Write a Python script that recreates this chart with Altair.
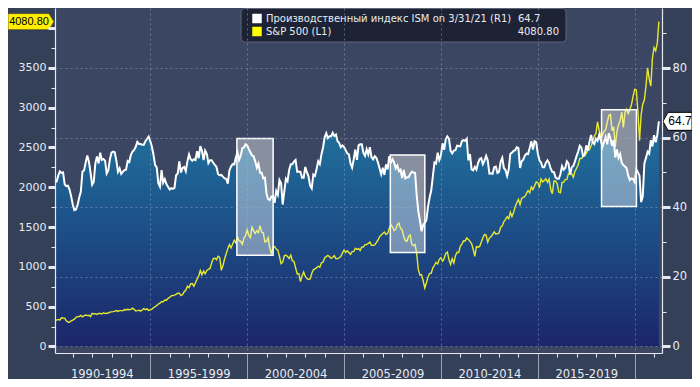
import altair as alt
import pandas as pd

# ---------------- data (monthly, month-end, Jan 1990 .. Mar 2021) ----------------
ISM_NAME = "Производственный индекс ISM on 3/31/21 (R1)"
SP_NAME = "S&P 500 (L1)"
START_YEAR = 1990

ISM_VALUES = [
    47.2, 47.4, 49.1, 50.3, 49.9, 50.0, 46.6, 46.1, 46.2, 45.1, 43.2, 40.8,  # 1990
    39.2, 39.4, 40.7, 42.8, 44.5, 50.3, 50.6, 52.9, 54.9, 53.1, 50.0, 46.5,  # 1991
    47.3, 52.7, 54.6, 52.6, 55.7, 53.6, 53.9, 53.4, 49.7, 50.6, 53.8, 55.7,  # 1992
    56.0, 55.8, 53.4, 50.2, 51.2, 49.6, 50.2, 50.7, 50.8, 53.3, 53.0, 55.1,  # 1993
    56.0, 56.5, 57.4, 58.8, 58.2, 58.2, 58.0, 58.0, 59.0, 59.7, 60.3, 59.0,  # 1994
    57.4, 55.1, 52.1, 51.5, 46.9, 45.9, 50.7, 47.1, 48.1, 46.7, 45.9, 45.1,  # 1995
    45.5, 45.3, 45.6, 49.2, 49.7, 53.2, 50.0, 51.3, 51.6, 50.4, 53.2, 55.2,  # 1996
    53.8, 53.4, 53.8, 53.6, 56.1, 54.1, 57.6, 56.3, 53.6, 56.3, 55.4, 52.7,  # 1997
    53.5, 53.5, 52.8, 52.2, 51.6, 49.5, 49.2, 49.3, 48.8, 48.3, 48.2, 46.8,  # 1998
    50.6, 51.7, 52.4, 52.3, 54.3, 55.8, 53.6, 54.8, 57.0, 57.2, 58.1, 57.8,  # 1999
    56.7, 55.8, 54.9, 54.7, 53.2, 51.4, 52.5, 49.9, 49.9, 48.3, 48.5, 43.9,  # 2000
    42.3, 42.1, 43.1, 43.2, 41.3, 44.7, 43.6, 47.9, 47.0, 40.8, 44.5, 48.2,  # 2001
    47.5, 50.7, 52.4, 52.4, 53.1, 53.6, 50.2, 50.3, 50.2, 48.5, 48.5, 51.6,  # 2002
    50.0, 48.9, 46.2, 45.4, 49.4, 49.0, 51.0, 53.2, 52.4, 55.2, 57.2, 60.1,  # 2003
    61.3, 59.9, 60.4, 60.4, 61.4, 60.5, 60.9, 59.0, 58.5, 57.3, 57.8, 57.3,  # 2004
    56.4, 55.5, 55.2, 52.6, 51.4, 53.8, 56.6, 53.6, 57.8, 58.1, 58.1, 55.6,  # 2005
    54.8, 56.7, 55.2, 57.3, 54.4, 53.8, 54.7, 54.2, 52.9, 51.2, 49.5, 51.4,  # 2006
    49.3, 52.3, 50.9, 54.7, 52.9, 53.8, 52.9, 51.2, 52.0, 50.4, 50.8, 48.4,  # 2007
    50.7, 48.3, 48.6, 48.6, 49.6, 50.2, 50.0, 49.9, 43.5, 38.9, 36.2, 33.1,  # 2008
    34.9, 35.5, 36.3, 40.1, 42.8, 44.8, 48.9, 52.9, 52.6, 55.7, 53.6, 54.9,  # 2009
    58.4, 56.5, 59.6, 60.4, 59.7, 56.2, 55.5, 56.3, 56.4, 57.7, 57.6, 57.5,  # 2010
    59.0, 59.3, 59.1, 59.7, 53.5, 55.3, 50.9, 50.6, 51.6, 50.8, 52.7, 53.9,  # 2011
    54.1, 52.4, 53.4, 54.8, 53.5, 49.7, 49.8, 49.6, 51.5, 51.7, 49.9, 50.2,  # 2012
    53.1, 54.2, 51.3, 50.7, 49.0, 50.9, 55.4, 55.7, 56.2, 56.4, 57.3, 57.0,  # 2013
    51.3, 53.2, 53.7, 54.9, 55.4, 55.3, 57.1, 59.0, 56.6, 59.0, 58.7, 55.5,  # 2014
    53.5, 52.9, 51.5, 51.5, 52.8, 53.5, 52.7, 51.1, 50.2, 50.1, 48.6, 48.2,  # 2015
    48.2, 49.5, 51.8, 50.8, 51.3, 53.2, 52.6, 49.4, 51.5, 51.9, 53.2, 54.7,  # 2016
    56.0, 57.7, 57.2, 54.8, 54.9, 57.8, 56.3, 58.8, 60.8, 58.7, 58.2, 59.7,  # 2017
    59.1, 60.8, 59.3, 57.3, 58.7, 60.2, 58.1, 61.3, 59.8, 57.7, 59.3, 54.3,  # 2018
    56.6, 54.2, 55.3, 52.8, 52.1, 51.7, 51.2, 49.1, 47.8, 48.3, 48.1, 47.2,  # 2019
    50.9, 50.1, 49.1, 41.5, 43.1, 52.6, 54.2, 56.0, 55.4, 59.3, 57.5, 60.7,  # 2020
    58.7, 60.8, 64.7,                                                        # 2021
]

SP_VALUES = [
    329.1, 331.9, 339.9, 330.8, 361.2, 358.0, 356.2, 322.6, 306.1, 304.0, 322.2, 330.2,  # 1990
    343.9, 367.1, 375.2, 375.3, 389.8, 371.2, 387.8, 395.4, 387.9, 392.5, 375.2, 417.1,  # 1991
    408.8, 412.7, 403.7, 414.9, 415.4, 408.1, 424.2, 414.0, 417.8, 418.7, 431.4, 435.7,  # 1992
    438.8, 443.4, 451.7, 440.2, 450.2, 450.5, 448.1, 463.6, 458.9, 467.8, 461.8, 466.5,  # 1993
    481.6, 467.1, 445.8, 450.9, 456.5, 444.3, 458.3, 475.5, 462.7, 472.4, 453.7, 459.3,  # 1994
    470.4, 487.4, 500.7, 514.7, 533.4, 544.8, 562.1, 561.9, 584.4, 581.5, 605.4, 615.9,  # 1995
    636.0, 640.4, 645.5, 654.2, 669.1, 670.6, 639.9, 651.9, 687.3, 705.3, 757.0, 740.7,  # 1996
    786.2, 790.8, 757.1, 801.3, 848.3, 885.1, 954.3, 899.5, 947.3, 914.6, 955.4, 970.4,  # 1997
    980.3, 1049.3, 1101.8, 1111.8, 1090.8, 1133.8, 1120.7, 957.3, 1017.0, 1098.7, 1163.6, 1229.2,  # 1998
    1279.6, 1238.3, 1286.4, 1335.2, 1301.8, 1372.7, 1328.7, 1320.4, 1282.7, 1362.9, 1389.0, 1469.3,  # 1999
    1394.5, 1366.4, 1498.6, 1452.4, 1420.6, 1454.6, 1430.8, 1517.7, 1436.5, 1429.4, 1315.0, 1320.3,  # 2000
    1366.0, 1239.9, 1160.3, 1249.5, 1255.8, 1224.4, 1211.2, 1133.6, 1040.9, 1059.8, 1139.5, 1148.1,  # 2001
    1130.2, 1106.7, 1147.4, 1076.9, 1067.1, 989.8, 911.6, 916.1, 815.3, 885.8, 936.3, 879.8,  # 2002
    855.7, 841.2, 848.2, 916.9, 963.6, 974.5, 990.3, 1008.0, 996.0, 1050.7, 1058.2, 1111.9,  # 2003
    1131.1, 1144.9, 1126.2, 1107.3, 1120.7, 1140.8, 1101.7, 1104.2, 1114.6, 1130.2, 1173.8, 1211.9,  # 2004
    1181.3, 1203.6, 1180.6, 1156.8, 1191.5, 1191.3, 1234.2, 1220.3, 1228.8, 1207.0, 1249.5, 1248.3,  # 2005
    1280.1, 1280.7, 1294.9, 1310.6, 1270.1, 1270.2, 1276.7, 1303.8, 1335.9, 1377.9, 1400.6, 1418.3,  # 2006
    1438.2, 1406.8, 1420.9, 1482.4, 1530.6, 1503.4, 1455.3, 1473.9, 1526.8, 1549.4, 1481.1, 1468.4,  # 2007
    1378.6, 1330.6, 1322.7, 1385.6, 1400.4, 1280.0, 1267.4, 1282.8, 1166.4, 968.8, 896.2, 903.3,  # 2008
    825.9, 735.1, 797.9, 872.8, 919.1, 919.3, 987.5, 1020.6, 1057.1, 1036.2, 1095.6, 1115.1,  # 2009
    1073.9, 1104.5, 1169.4, 1186.7, 1089.4, 1030.7, 1101.6, 1049.3, 1141.2, 1183.3, 1180.6, 1257.6,  # 2010
    1286.1, 1327.2, 1325.8, 1363.6, 1345.2, 1320.6, 1292.3, 1218.9, 1131.4, 1253.3, 1247.0, 1257.6,  # 2011
    1312.4, 1365.7, 1408.5, 1397.9, 1310.3, 1362.2, 1379.3, 1406.6, 1440.7, 1412.2, 1416.2, 1426.2,  # 2012
    1498.1, 1514.7, 1569.2, 1597.6, 1630.7, 1606.3, 1685.7, 1633.0, 1681.6, 1756.5, 1805.8, 1848.4,  # 2013
    1782.6, 1859.5, 1872.3, 1883.9, 1923.6, 1960.2, 1930.7, 2003.4, 1972.3, 2018.1, 2067.6, 2058.9,  # 2014
    1995.0, 2104.5, 2067.9, 2085.5, 2107.4, 2063.1, 2104.0, 1972.2, 1920.0, 2079.4, 2080.4, 2043.9,  # 2015
    1940.2, 1932.2, 2059.7, 2065.3, 2096.9, 2098.9, 2173.6, 2170.9, 2168.3, 2126.2, 2199.0, 2238.8,  # 2016
    2278.9, 2363.6, 2362.7, 2384.2, 2411.8, 2423.4, 2470.3, 2471.7, 2519.4, 2575.3, 2647.6, 2673.6,  # 2017
    2823.8, 2713.8, 2640.9, 2648.1, 2705.3, 2718.4, 2816.3, 2901.5, 2914.0, 2711.7, 2760.2, 2506.9,  # 2018
    2704.1, 2784.5, 2834.4, 2945.8, 2752.1, 2941.8, 2980.4, 2926.5, 2976.7, 3037.6, 3141.0, 3230.8,  # 2019
    3225.5, 2954.2, 2584.6, 2912.4, 3044.3, 3100.3, 3271.1, 3500.3, 3363.0, 3270.0, 3621.6, 3756.1,  # 2020
    3714.2, 3811.2, 4080.8,                                                                     # 2021
]

# highlighted periods (years) and their vertical extent on the ISM (right) scale
BOX_START = [1999.47, 2007.39, 2018.29]
BOX_END = [2001.34, 2009.17, 2020.09]
BOX_TOP = [59.8, 55.0, 68.0]
BOX_BOTTOM = [26.2, 27.0, 40.2]

PERIOD_LABELS = ["1990-1994", "1995-1999", "2000-2004", "2005-2009", "2010-2014", "2015-2019"]
YEAR_TICKS = list(range(1991, 2022))
SP_TICKS = list(range(0, 4001, 250))
ISM_TICKS = list(range(0, 91, 10))

# ---------------- layout / style ----------------
W, H = 607, 345
X_DOM = [START_YEAR + 1 / 12, 2021.41]
SP_DOM = [-81.7, 4252.5]
ISM_DOM = [-1.87, 97.27]
FONT = "DejaVu Sans"
TXT = "#e8ecf2"
AXIS_LINE = "#e6e9ef"
GRID = "#aab3c6"
YELLOW = "#e8e82c"

t = [START_YEAR + (i + 1) / 12 for i in range(len(ISM_VALUES))]
df = pd.DataFrame({"t": t, "ism": ISM_VALUES, "sp": SP_VALUES})
last = df.tail(1)
boxes = pd.DataFrame({"x0": BOX_START, "x1": BOX_END, "top": BOX_TOP, "bot": BOX_BOTTOM})

mids = [int(p[:4]) + 2.5 for p in PERIOD_LABELS]
label_expr = " : ".join(f"datum.value === {m} ? '{p}'" for m, p in zip(mids, PERIOD_LABELS)) + " : ''"

x_axis = alt.Axis(
    values=sorted(YEAR_TICKS + mids),
    labelExpr=label_expr,
    title=None,
    domainColor=AXIS_LINE,
    domainWidth=1.2,
    tickColor={"condition": {"test": "datum.value % 5 === 0", "value": "#9ba4b6"}, "value": AXIS_LINE},
    tickSize={"condition": {"test": "datum.value % 5 === 0", "value": 26}, "value": 4},
    tickOpacity={"condition": {"test": "datum.value % 1 !== 0", "value": 0}, "value": 1},
    grid=True,
    gridColor=GRID,
    gridDash=[2, 3],
    gridOpacity={"condition": {"test": "datum.value % 5 === 0", "value": 0.45}, "value": 0},
    labelColor=TXT,
    labelFont=FONT,
    labelFontSize=11.5,
    labelPadding=11,
    labelOverlap=False,
    labelFlush=False,
    zindex=1,
)
X = alt.X("t:Q", scale=alt.Scale(domain=X_DOM, nice=False, zero=False), axis=x_axis)

sp_scale = alt.Scale(domain=SP_DOM, nice=False, zero=False)
ism_scale = alt.Scale(domain=ISM_DOM, nice=False, zero=False)

left_axis = alt.Axis(
    orient="left",
    values=SP_TICKS,
    format="d",
    labelExpr="datum.value % 500 === 0 && datum.value < 4000 ? datum.label : ''",
    title=None,
    grid=False,
    domainColor=AXIS_LINE,
    domainWidth=1.2,
    tickColor=AXIS_LINE,
    tickSize={"condition": {"test": "datum.value % 500 === 0", "value": 7}, "value": 4},
    tickWidth={"condition": {"test": "datum.value % 500 === 0", "value": 3}, "value": 1},
    labelColor=TXT,
    labelFont=FONT,
    labelFontSize=11,
    labelPadding=2,
    labelOverlap=False,
    zindex=1,
)
right_axis = alt.Axis(
    orient="right",
    values=ISM_TICKS,
    labelExpr="datum.value % 20 === 0 ? datum.label : ''",
    title=None,
    grid=True,
    gridColor=GRID,
    gridDash=[2, 3],
    gridOpacity={"condition": {"test": "datum.value % 20 === 0", "value": 0.45}, "value": 0},
    domainColor=AXIS_LINE,
    domainWidth=1.2,
    tickColor=AXIS_LINE,
    tickSize={"condition": {"test": "datum.value % 20 === 0", "value": 8}, "value": 4},
    tickWidth={"condition": {"test": "datum.value % 20 === 0", "value": 3}, "value": 1},
    labelColor=TXT,
    labelFont=FONT,
    labelFontSize=11.5,
    labelPadding=2,
    labelOverlap=False,
    zindex=1,
)

fill_grad = alt.Gradient(
    gradient="linear",
    stops=[
        alt.GradientStop(color="#20739d", offset=0),
        alt.GradientStop(color="#1d5189", offset=0.45),
        alt.GradientStop(color="#1b2669", offset=1),
    ],
    x1=1, x2=1, y1=0, y2=1,
)

base = alt.Chart(df)

area = base.mark_area(color=fill_grad).encode(
    x=X, y=alt.Y("ism:Q", scale=ism_scale, axis=None), y2=alt.value(H)
)
sp_line = base.mark_line(color=YELLOW, strokeWidth=1.4).encode(
    x=X, y=alt.Y("sp:Q", scale=sp_scale, axis=left_axis)
)
ism_line = base.mark_line(color="white", strokeWidth=2).encode(
    x=X, y=alt.Y("ism:Q", scale=ism_scale, axis=right_axis)
)
box_layer = alt.Chart(boxes).mark_rect(
    fill="white", fillOpacity=0.4, stroke="white", strokeWidth=1.5
).encode(
    x=alt.X("x0:Q", scale=alt.Scale(domain=X_DOM, nice=False, zero=False), axis=x_axis),
    x2="x1:Q",
    y=alt.Y("top:Q", scale=ism_scale, axis=None),
    y2="bot:Q",
)

# value tags on the axes
LEFT_TAG = "M-1,-0.35 L0.78,-0.35 L1,0 L0.78,0.35 L-1,0.35 Z"
RIGHT_TAG = "M-1,0 L-0.66,-0.62 L1,-0.62 L1,0.62 L-0.66,0.62 Z"
sp_tag = alt.Chart(last).mark_point(
    shape=LEFT_TAG, size=46 * 46, filled=True, fill="#ffee00", stroke="#333", strokeWidth=0.6, opacity=1
).encode(x=alt.value(-24), y=alt.Y("sp:Q", scale=sp_scale, axis=None))
sp_tag_text = alt.Chart(last).mark_text(
    font="Liberation Sans", fontSize=11, color="black", align="center", baseline="middle"
).encode(x=alt.value(-26), y=alt.Y("sp:Q", scale=sp_scale, axis=None), text=alt.Text("sp:Q", format=".2f"))
ism_tag = alt.Chart(last).mark_point(
    shape=RIGHT_TAG, size=29 * 29, filled=True, fill="white", stroke="black", strokeWidth=1, opacity=1
).encode(x=alt.value(W + 15.5), y=alt.Y("ism:Q", scale=ism_scale, axis=None))
ism_tag_text = alt.Chart(last).mark_text(
    font="Liberation Sans", fontSize=12, color="black", align="center", baseline="middle"
).encode(x=alt.value(W + 18), y=alt.Y("ism:Q", scale=ism_scale, axis=None), text=alt.Text("ism:Q", format=".1f"))

# legend panel
legend_rows = pd.DataFrame({
    "name": [ISM_NAME, SP_NAME],
    "col": ["#ffffff", "#ffff00"],
    "py": [10.5, 23.5],
})
dummy = pd.DataFrame({"a": [0]})
leg_box = alt.Chart(dummy).mark_rect(
    fill="#1d2334", stroke="#5d6579", strokeWidth=1, cornerRadius=4
).encode(x=alt.value(186), x2=alt.value(511), y=alt.value(0.5), y2=alt.value(34))
leg_sq = alt.Chart(legend_rows).mark_square(size=90, opacity=1).encode(
    x=alt.value(202), y=alt.Y("py:Q", scale=None), color=alt.Color("col:N", scale=None)
)
leg_txt = alt.Chart(legend_rows).mark_text(
    font=FONT, fontSize=10, color=TXT, align="left", baseline="middle"
).encode(x=alt.value(211), y=alt.Y("py:Q", scale=None), text="name:N")
val1 = alt.Chart(last).mark_text(
    font=FONT, fontSize=10, color=TXT, align="left", baseline="middle"
).encode(x=alt.value(463), y=alt.value(10.5), text=alt.Text("ism:Q", format=".1f"))
val2 = alt.Chart(last).mark_text(
    font=FONT, fontSize=10, color=TXT, align="right", baseline="middle"
).encode(x=alt.value(504), y=alt.value(23.5), text=alt.Text("sp:Q", format=".2f"))

chart = (
    alt.layer(
        area, sp_line, ism_line, box_layer,
        sp_tag, sp_tag_text, ism_tag, ism_tag_text,
        leg_box, leg_sq, leg_txt, val1, val2,
    )
    .resolve_scale(y="independent")
    .properties(
        width=W,
        height=H,
        autosize=alt.AutoSizeParams(type="none"),
        padding={"left": 47, "top": 0, "right": 30, "bottom": 26},
        background="#343f58",
    )
    .configure_view(fill="#3a4662", strokeWidth=0)
)

chart.save("out.html", embed_options={"renderer": "svg", "actions": False})
